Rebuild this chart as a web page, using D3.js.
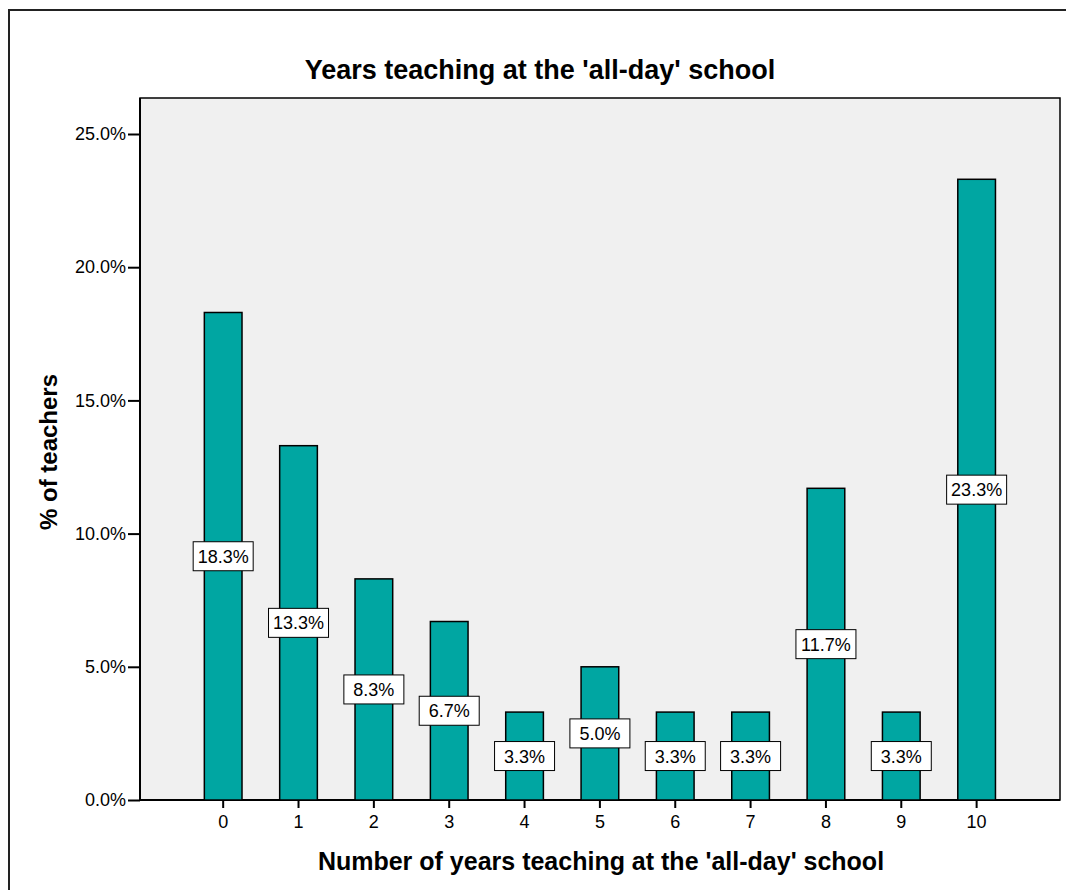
<!DOCTYPE html>
<html>
<head>
<meta charset="utf-8">
<script src="https://cdn.jsdelivr.net/npm/d3@7"></script>
<style>
  body { margin: 0; background: #fff; }
  text { font-family: "Liberation Sans", Arial, sans-serif; }
</style>
</head>
<body>
<div id="chart"></div>
<script>
const years = ["0", "1", "2", "3", "4", "5", "6", "7", "8", "9", "10"];
const percents = [18.3, 13.3, 8.3, 6.7, 3.3, 5.0, 3.3, 3.3, 11.7, 3.3, 23.3];
const yTicks = [0, 5, 10, 15, 20, 25];

const width = 1066;
const height = 890;
const plot = { left: 140, top: 98, right: 1060, bottom: 800 };

const svg = d3.select("#chart")
    .append("svg")
    .attr("width", width)
    .attr("height", height);

// outer frame
svg.append("rect")
    .attr("x", 9).attr("y", 10)
    .attr("width", 1100).attr("height", 1000)
    .attr("fill", "#fff")
    .attr("stroke", "#222")
    .attr("stroke-width", 2);

svg.append("rect")
    .attr("x", plot.left).attr("y", plot.top)
    .attr("width", plot.right - plot.left)
    .attr("height", plot.bottom - plot.top)
    .attr("fill", "#f0f0f0")
    .attr("stroke", "#000")
    .attr("stroke-width", 1.5);

const xScale = d3.scaleBand()
    .domain(years)
    .range([185.5, 1014.3])
    .paddingInner(0.5)
    .paddingOuter(0.25);

const yScale = d3.scaleLinear()
    .domain([0, 25])
    .range([plot.bottom, 134]);

const yAxis = d3.axisLeft(yScale)
    .tickValues(yTicks)
    .tickFormat(d => d.toFixed(1) + "%")
    .tickSize(12)
    .tickPadding(2);

const xAxis = d3.axisBottom(xScale)
    .tickSize(8)
    .tickPadding(7);

svg.append("g")
    .attr("transform", `translate(${plot.left}, 0)`)
    .call(yAxis)
    .call(g => g.select(".domain").remove())
    .call(g => g.selectAll("line").attr("stroke", "#000").attr("stroke-width", 2))
    .call(g => g.selectAll("text").attr("font-size", 18).attr("fill", "#000"));

svg.append("g")
    .attr("transform", `translate(0, ${plot.bottom})`)
    .call(xAxis)
    .call(g => g.select(".domain").remove())
    .call(g => g.selectAll("line").attr("stroke", "#000").attr("stroke-width", 2))
    .call(g => g.selectAll("text").attr("font-size", 18).attr("fill", "#000"));

// axis lines
svg.append("line")
    .attr("x1", plot.left).attr("x2", plot.left)
    .attr("y1", plot.top).attr("y2", plot.bottom)
    .attr("stroke", "#000").attr("stroke-width", 2);
svg.append("line")
    .attr("x1", plot.left).attr("x2", plot.right)
    .attr("y1", plot.bottom).attr("y2", plot.bottom)
    .attr("stroke", "#000").attr("stroke-width", 2);

const data = years.map((y, i) => ({ year: y, pct: percents[i] }));

svg.selectAll(".bar")
    .data(data)
    .enter()
    .append("rect")
    .attr("class", "bar")
    .attr("x", d => xScale(d.year))
    .attr("y", d => yScale(d.pct))
    .attr("width", xScale.bandwidth())
    .attr("height", d => plot.bottom - yScale(d.pct))
    .attr("fill", "#00a6a2")
    .attr("stroke", "#000")
    .attr("stroke-width", 1.5);

const labels = svg.selectAll(".lbl")
    .data(data)
    .enter()
    .append("g")
    .attr("class", "lbl")
    .attr("transform", d => `translate(${xScale(d.year) + xScale.bandwidth() / 2}, ${yScale(d.pct / 2)})`);

labels.append("rect")
    .attr("x", -30).attr("y", -14.5)
    .attr("width", 60).attr("height", 29)
    .attr("fill", "#fff")
    .attr("stroke", "#000")
    .attr("stroke-width", 1);

labels.append("text")
    .attr("text-anchor", "middle")
    .attr("dy", "0.36em")
    .attr("font-size", 18)
    .attr("fill", "#000")
    .text(d => d.pct.toFixed(1) + "%");

svg.append("text")
    .attr("x", 540).attr("y", 79)
    .attr("text-anchor", "middle")
    .attr("font-size", 27)
    .attr("font-weight", "bold")
    .text("Years teaching at the 'all-day' school");

svg.append("text")
    .attr("x", 601).attr("y", 870)
    .attr("text-anchor", "middle")
    .attr("font-size", 25)
    .attr("font-weight", "bold")
    .text("Number of years teaching at the 'all-day' school");

svg.append("text")
    .attr("transform", "translate(57, 452) rotate(-90)")
    .attr("text-anchor", "middle")
    .attr("font-size", 24)
    .attr("font-weight", "bold")
    .text("% of teachers");
</script>
</body>
</html>
